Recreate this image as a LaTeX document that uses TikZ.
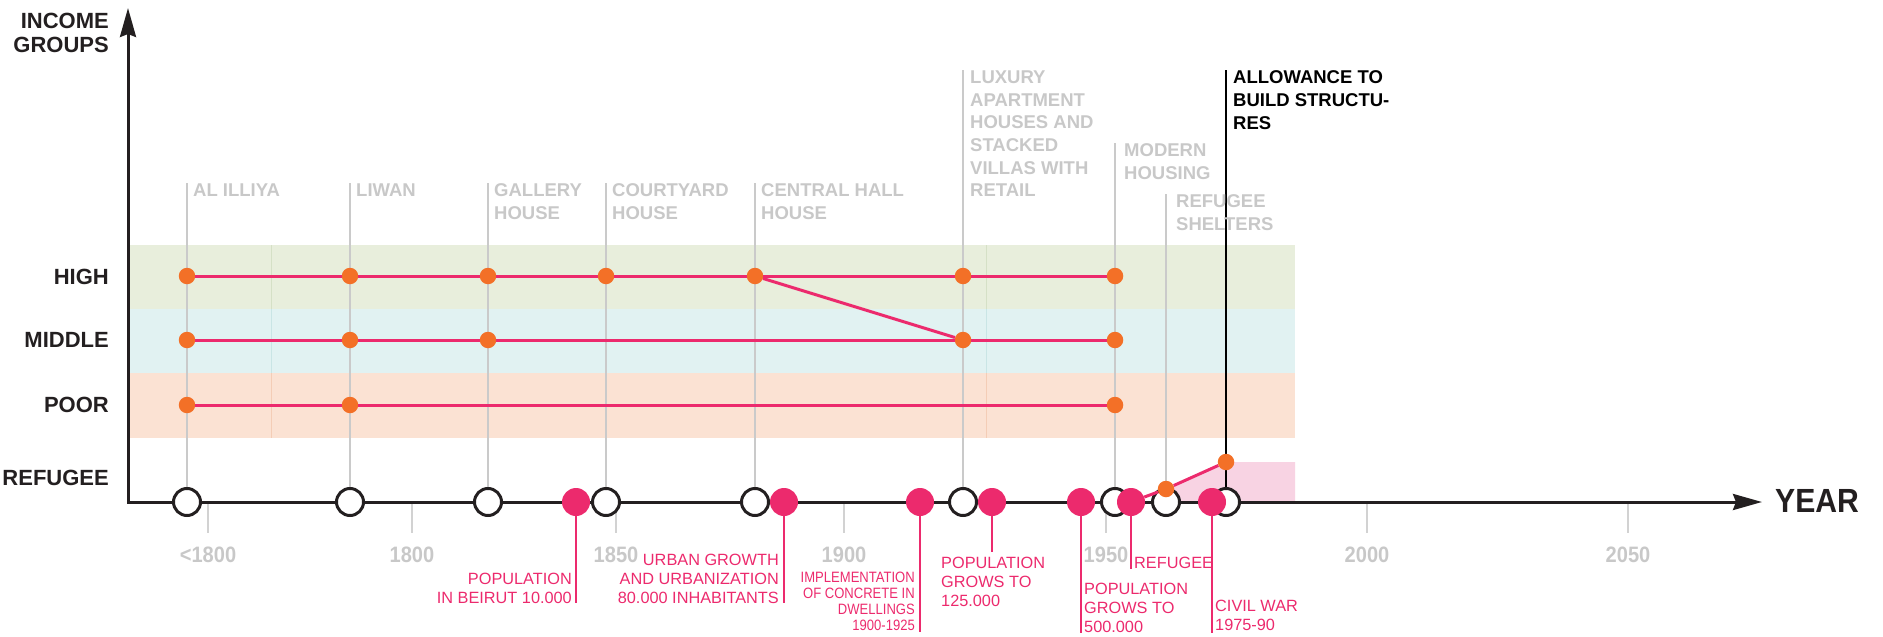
\documentclass[tikz,border=0pt]{standalone}
\usepackage{fontspec}
\setmainfont{Liberation Sans}
\newfontfamily\condfont[FakeStretch=0.9]{Liberation Sans}
\newfontfamily\narrowfont[FakeStretch=0.87]{Liberation Sans}
\usetikzlibrary{arrows.meta}
\definecolor{bandgreen}{HTML}{E8EEDC}
\definecolor{bandblue}{HTML}{E1F2F2}
\definecolor{bandorange}{HTML}{FBE2D3}
\definecolor{linegreen}{HTML}{D5E0C6}
\definecolor{lineblue}{HTML}{C9E5E5}
\definecolor{lineorange}{HTML}{F4CDB6}
\definecolor{refpink}{HTML}{F8D3E3}
\definecolor{pinkc}{HTML}{EC2A6D}
\definecolor{orangec}{HTML}{F37027}
\definecolor{grayt}{HTML}{C8C8C8}
\definecolor{grayl}{HTML}{CACACA}
\definecolor{tickc}{HTML}{D2D2D2}
\definecolor{axisc}{HTML}{231F20}
\tikzset{
  axisline/.style={draw=axisc, line width=3pt, line join=miter},
  tickline/.style={draw=tickc, line width=2pt},
  grayline/.style={draw=grayl, line width=1.5pt},
  faint/.style={line width=1pt},
  wcirc/.style={circle, draw=axisc, fill=white, line width=3pt, minimum size=27pt, inner sep=0pt},
  pcirc/.style={circle, fill=pinkc, minimum size=28pt, inner sep=0pt},
  odot/.style={circle, fill=orangec, minimum size=16.5pt, inner sep=0pt},
  pline/.style={draw=pinkc, line width=3pt},
  stem/.style={draw=pinkc, line width=2.5pt},
  graylabel/.style={font=\fontsize{18.5}{22.6}\selectfont\bfseries, text=grayt, inner sep=0pt, align=left, anchor=north west},
  blacklabel/.style={graylabel, text=black},
  grouplabel/.style={font=\fontsize{22}{24.5}\selectfont\bfseries, text=axisc, inner sep=0pt, anchor=base east},
  yearlabel/.style={font=\condfont\fontsize{22.3}{24}\selectfont\bfseries, text=grayt, inner sep=0pt, anchor=base},
  pinklabel/.style={font=\fontsize{16.3}{18.7}\selectfont, text=pinkc, inner sep=0pt},
  pinksmall/.style={font=\narrowfont\fontsize{15}{15.7}\selectfont, text=pinkc, inner sep=0pt},
}
\begin{document}
\begin{tikzpicture}[x=1pt,y=-1pt]
\useasboundingbox (0,0) rectangle (1883,637);
% bands
\fill[bandgreen] (129,245) rectangle (1295,309);
\fill[bandblue] (129,309) rectangle (1295,373);
\fill[bandorange] (129,373) rectangle (1295,438);
\foreach \x in {271,986}{
  \draw[faint, linegreen] (\x,245) -- (\x,309);
  \draw[faint, lineblue] (\x,309) -- (\x,373);
  \draw[faint, lineorange] (\x,373) -- (\x,438);
}
% refugee area
\fill[refpink] (1166,502) -- (1166,489) -- (1226,462) -- (1295,462) -- (1295,502) -- cycle;
% ticks
\foreach \x in {208,412,616,844,1106,1367,1628}{
  \draw[tickline] (\x,502) -- (\x,533);
}
% axes
\draw[axisline, {Stealth[length=29pt,width=16pt,inset=3pt]}-{Stealth[length=29pt,width=16pt,inset=3pt]}] (128,8) -- (128,502) -- (1762,502);
% white circles on the axis
\foreach \n/\x in {1/187,2/350,3/488,4/606,5/755,6/963,7/1115,8/1166,9/1226}{
  \node[wcirc] (w\n) at (\x,502) {};
}
% label guide lines
\coordinate (g1) at (187,183);
\coordinate (g2) at (350,183);
\coordinate (g3) at (488,183);
\coordinate (g4) at (606,183);
\coordinate (g5) at (755,183);
\coordinate (g6) at (963,70);
\coordinate (g7) at (1115,143);
\coordinate (g8) at (1166,194);
\coordinate (g9) at (1226,70);
\foreach \n in {1,...,8}{
  \draw[grayline] (g\n) -- (w\n);
}
\draw[draw=black, line width=1.5pt] (g9) -- (w9);
% orange dots
\foreach \n/\x in {1/187,2/350,3/488,4/606,5/755,6/963,7/1115}{
  \node[odot] (h\n) at (\x,276) {};
}
\foreach \n/\x in {1/187,2/350,3/488,4/963,5/1115}{
  \node[odot] (m\n) at (\x,340) {};
}
\foreach \n/\x in {1/187,2/350,3/1115}{
  \node[odot] (o\n) at (\x,405) {};
}
\node[odot] (r1) at (1166,489) {};
\node[odot] (r2) at (1226,462) {};
% pink connections
\draw[pline] (h1) -- (h2) -- (h3) -- (h4) -- (h5) -- (h6) -- (h7);
\draw[pline] (m1) -- (m2) -- (m3) -- (m4) -- (m5);
\draw[pline] (o1) -- (o2) -- (o3);
\draw[pline] (h5) -- (m4);
% event markers
\foreach \n/\x/\e in {1/576/603.3,2/784/603.3,3/920/632,4/992/552,5/1081/633,6/1131/569,7/1212/633}{
  \node[pcirc] (p\n) at (\x,502) {};
  \coordinate (s\n) at (\x,\e);
  \draw[stem] (p\n) -- (s\n);
}
\draw[pline] (p6) -- (r1) -- (r2);
% axis titles
\node[grouplabel, anchor=north east, align=right] (tincome) at (109,12.9) {INCOME\\GROUPS};
\node[grouplabel] (thigh) at (109,284.3) {HIGH};
\node[grouplabel] (tmiddle) at (109,347.3) {MIDDLE};
\node[grouplabel] (tpoor) at (109,412.5) {POOR};
\node[grouplabel] (trefugee) at (109,485.3) {REFUGEE};
\node[font=\condfont\fontsize{33.5}{36}\selectfont\bfseries, text=axisc, inner sep=0pt, anchor=base west] (tyear) at (1775,512) {YEAR};
% years
\node[yearlabel] (y1) at (208,562) {<1800};
\node[yearlabel] (y2) at (412,562) {1800};
\node[yearlabel] (y3) at (616,562) {1850};
\node[yearlabel] (y4) at (844,562) {1900};
\node[yearlabel] (y5) at (1106,562) {1950};
\node[yearlabel] (y6) at (1367,562) {2000};
\node[yearlabel] (y7) at (1628,562) {2050};
% housing labels
\node[graylabel] (l1) at (193,183.75) {AL ILLIYA};
\node[graylabel] (l2) at (356,183.75) {LIWAN};
\node[graylabel] (l3) at (494,183.75) {GALLERY\\HOUSE};
\node[graylabel] (l4) at (612,183.75) {COURTYARD\\HOUSE};
\node[graylabel] (l5) at (761,183.75) {CENTRAL HALL\\HOUSE};
\node[graylabel] (l6) at (970,70.75) {LUXURY\\APARTMENT\\HOUSES AND\\STACKED\\VILLAS WITH\\RETAIL};
\node[graylabel] (l7) at (1124,143.75) {MODERN\\HOUSING};
\node[graylabel] (l8) at (1176,194.75) {REFUGEE\\SHELTERS};
\node[blacklabel] (l9) at (1233,70.75) {ALLOWANCE TO\\BUILD STRUCTU-\\RES};
% event labels
\node[pinklabel, anchor=north east, align=right] (e1) at (572,572.9) {POPULATION\\IN BEIRUT 10.000};
\node[pinklabel, anchor=north east, align=right] (e2) at (779,554.2) {URBAN GROWTH\\AND URBANIZATION\\80.000 INHABITANTS};
\node[pinksmall, anchor=north east, align=right] (e3) at (915,572.3) {IMPLEMENTATION\\OF CONCRETE IN\\DWELLINGS\\1900-1925};
\node[pinklabel, anchor=north west, align=left] (e4) at (941,557.3) {POPULATION\\GROWS TO\\125.000};
\node[pinklabel, anchor=north west, align=left] (e5) at (1084,583.3) {POPULATION\\GROWS TO\\500.000};
\node[pinklabel, anchor=north west, align=left] (e6) at (1134,557.3) {REFUGEE};
\node[pinklabel, anchor=north west, align=left] (e7) at (1215,600.3) {CIVIL WAR\\1975-90};
\end{tikzpicture}
\end{document}
